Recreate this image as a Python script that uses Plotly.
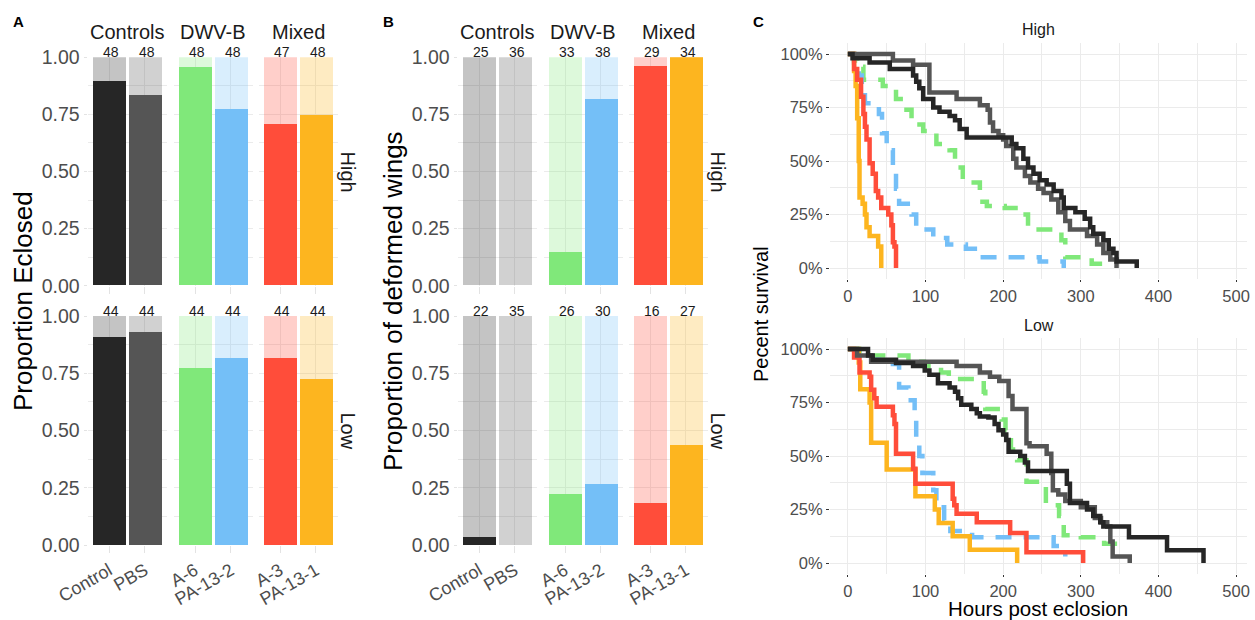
import plotly.graph_objects as go

# ---------------- data ----------------
categories = ["Control", "PBS", "A-6", "PA-13-2", "A-3", "PA-13-1"]
facet_groups = ["Controls", "DWV-B", "Mixed"]
facet_members = [["Control", "PBS"], ["A-6", "PA-13-2"], ["A-3", "PA-13-1"]]
row_labels = ["High", "Low"]

bar_colors = ["#262626", "#555555", "#80E87A", "#74BFF7", "#FF4D3A", "#FDB51F"]

total_proportion = [1.0, 1.0, 1.0, 1.0, 1.0, 1.0]

# Panel A: proportion eclosed
eclosed_high = [0.896, 0.833, 0.958, 0.771, 0.708, 0.745]
eclosed_low = [0.909, 0.932, 0.773, 0.818, 0.818, 0.727]
n_eclosed_high = [48, 48, 48, 48, 47, 48]
n_eclosed_low = [44, 44, 44, 44, 44, 44]

# Panel B: proportion of deformed wings
deformed_high = [0.0, 0.0, 0.145, 0.816, 0.962, 1.0]
deformed_low = [0.035, 0.0, 0.223, 0.267, 0.182, 0.437]
n_deformed_high = [25, 36, 33, 38, 29, 34]
n_deformed_low = [22, 35, 26, 30, 16, 27]

# Panel C: survival curves (hours, percent surviving)
high_control_t = [0, 6, 28, 54, 84, 88, 92, 97, 110, 118, 131, 138, 144, 153, 211, 217, 226, 232, 239, 247, 256, 265, 275, 278, 293, 305, 312, 316, 329, 336, 342, 346, 372]
high_control_s = [100, 98, 96, 93, 90, 87, 84, 79, 75, 73, 71, 69, 65, 61, 58, 56, 51, 47, 44, 41, 39, 36, 33, 28, 26, 23, 19, 16, 13, 9, 7, 3, 0]
high_pbs_t = [0, 58, 84, 105, 140, 170, 180, 183, 187, 194, 200, 204, 213, 217, 228, 235, 245, 252, 262, 271, 280, 286, 308, 321, 329, 338, 346]
high_pbs_s = [100, 97, 95, 82, 79, 76, 74, 68, 64, 62, 60, 57, 51, 47, 43, 40, 37, 35, 32, 26, 22, 18, 15, 11, 7, 4, 0]
high_a6_t = [0, 8, 12, 20, 45, 62, 72, 82, 97, 114, 131, 138, 148, 170, 179, 202, 219, 232, 275, 280, 314, 330]
high_a6_s = [100, 97, 94, 88, 85, 79, 74, 67, 64, 58, 55, 47, 40, 31, 29, 28, 25, 18, 13, 5, 2, 0]
high_pa132_t = [0, 8, 14, 18, 22, 40, 44, 50, 58, 62, 66, 82, 88, 110, 128, 152, 170, 247, 278]
high_pa132_s = [100, 96, 90, 84, 77, 72, 63, 55, 48, 37, 30, 25, 18, 14, 11, 9, 5, 3, 0]
high_a3_t = [0, 8, 12, 17, 20, 22, 24, 28, 32, 36, 39, 43, 52, 56, 58, 60, 62]
high_a3_s = [100, 93, 88, 80, 72, 66, 60, 49, 44, 36, 33, 28, 25, 20, 12, 10, 0]
high_pa131_t = [0, 8, 10, 12, 14, 15, 19, 22, 24, 28, 39, 43]
high_pa131_s = [100, 92, 85, 70, 50, 33, 30, 25, 19, 15, 10, 0]

low_control_t = [0, 26, 32, 62, 84, 99, 105, 116, 131, 138, 142, 146, 159, 166, 170, 181, 189, 194, 200, 204, 207, 222, 228, 232, 282, 286, 308, 316, 325, 329, 362, 411, 458]
low_control_s = [100, 97, 95, 93.5, 92, 90, 88, 84, 82, 80, 77, 74, 72, 70, 68.5, 68, 65, 62, 60, 57.5, 52, 50, 47, 43, 37, 28, 25, 22, 19, 17, 12, 6, 0]
low_pbs_t = [0, 12, 30, 140, 170, 183, 195, 207, 212, 230, 234, 256, 262, 264, 271, 280, 300, 318, 326, 334, 338, 341, 363]
low_pbs_s = [100, 97, 94, 92, 89, 87, 85, 78, 72, 56, 54.5, 51, 42, 34, 32, 29, 26, 21, 19, 17, 10, 3, 0]
low_a6_t = [0, 15, 78, 98, 120, 130, 175, 177, 198, 203, 210, 218, 230, 255, 272, 278, 300, 330, 352]
low_a6_s = [100, 97, 94, 92, 89, 86, 80, 72, 67, 62, 53, 48, 38, 27, 22, 13, 12, 9, 9]
low_pa132_t = [0, 12, 30, 58, 66, 78, 86, 88, 92, 96, 110, 114, 124, 132, 160, 265, 280]
low_pa132_s = [100, 98, 95, 93, 82, 76, 68, 59, 50, 42, 34, 26, 20, 15, 12, 8, 3]
low_a3_t = [0, 8, 15, 28, 30, 34, 37, 58, 60, 62, 84, 87, 135, 137, 140, 166, 209, 230, 303]
low_a3_s = [100, 96, 89, 87, 81, 77, 73, 69, 65, 51, 44, 37, 30, 27, 23, 19, 14, 5, 0]
low_pa131_t = [0, 14, 16, 28, 30, 50, 87, 112, 117, 135, 157, 218]
low_pa131_s = [100, 93.75, 81.25, 75, 56.25, 43.75, 31.25, 25, 18.75, 12.5, 6.25, 0]

# ---------------- styling ----------------
W, H = 1255, 620
FONT = "Liberation Sans, Arial, sans-serif"
GRID = "#ebebeb"
TICKTXT = "#4d4d4d"
DARK = "#1a1a1a"


def fx(px):
    return px / W


def fy(px):
    return 1 - px / H


color_of = dict(zip(categories, bar_colors))

fig = go.Figure()
layout = {}
annotations = []

bar_facets_x = [(87.5, 166.5), (173.5, 252.5), (258.5, 337.5)]
bar_rows_y = [(57.3, 285.7), (316.0, 545.0)]
bar_panels = [
    ("A", 0, [eclosed_high, eclosed_low], [n_eclosed_high, n_eclosed_low], "Proportion Eclosed", 23),
    ("B", 370, [deformed_high, deformed_low], [n_deformed_high, n_deformed_low], "Proportion of deformed wings", 393),
]

ax_i = 0
y_i = 0
for letter, off, vals, ns, ytitle, ytitle_x in bar_panels:
    for ri in range(2):
        y_i += 1
        yname = "y" if y_i == 1 else f"y{y_i}"
        ykey = "yaxis" if y_i == 1 else f"yaxis{y_i}"
        first_x = None
        for fi in range(3):
            ax_i += 1
            xname = "x" if ax_i == 1 else f"x{ax_i}"
            xkey = "xaxis" if ax_i == 1 else f"xaxis{ax_i}"
            if first_x is None:
                first_x = xname
            cats = facet_members[fi]
            idx = [categories.index(c) for c in cats]
            x0, x1 = bar_facets_x[fi]
            layout[xkey] = dict(
                domain=[fx(off + x0), fx(off + x1)], anchor=yname, type="category",
                categoryorder="array", categoryarray=cats, range=[-0.6, 1.6],
                showgrid=True, gridcolor=GRID, gridwidth=1.2, zeroline=False, showline=False,
                ticks="outside", ticklen=7, tickcolor="#e3e3e3", tickwidth=1.2,
                showticklabels=(ri == 1), tickangle=-30, automargin=False,
                tickfont=dict(family=FONT, size=18, color=TICKTXT), fixedrange=True,
            )
            fig.add_trace(go.Bar(
                x=cats, y=[total_proportion[i] for i in idx], width=0.9,
                marker=dict(color=[color_of[c] for c in cats], opacity=0.27, line_width=0),
                xaxis=xname, yaxis=yname, showlegend=False, hoverinfo="skip"))
            fig.add_trace(go.Bar(
                x=cats, y=[vals[ri][i] for i in idx], width=0.9,
                marker=dict(color=[color_of[c] for c in cats], line_width=0),
                xaxis=xname, yaxis=yname, showlegend=False))
            for c, i in zip(cats, idx):
                annotations.append(dict(
                    x=c, y=total_proportion[i], xref=xname, yref=yname, text=str(ns[ri][i]),
                    showarrow=False, yanchor="middle", yshift=5, xshift=2,
                    font=dict(family=FONT, size=14, color=DARK)))
            if ri == 0:
                annotations.append(dict(
                    x=fx(off + (x0 + x1) / 2), y=fy(32), xref="paper", yref="paper",
                    text=facet_groups[fi], showarrow=False, xanchor="center", yanchor="middle",
                    font=dict(family=FONT, size=20, color=DARK)))
        y0, y1 = bar_rows_y[ri]
        layout[ykey] = dict(
            domain=[fy(y1), fy(y0)], anchor=first_x, range=[0, 1], dtick=0.25, tick0=0,
            tickformat=".2f", showgrid=True, gridcolor=GRID, gridwidth=1.2,
            minor=dict(dtick=0.125, showgrid=True, gridcolor=GRID, gridwidth=0.6),
            zeroline=False, showline=False, ticks="outside", ticklen=3, tickcolor="#e3e3e3",
            automargin=False,
            tickfont=dict(family=FONT, size=19.5, color=TICKTXT), fixedrange=True,
        )
        annotations.append(dict(
            x=fx(off + 348), y=fy((y0 + y1) / 2), xref="paper", yref="paper",
            text=row_labels[ri], textangle=90, showarrow=False, xanchor="center", yanchor="middle",
            font=dict(family=FONT, size=20, color=DARK)))
    annotations.append(dict(
        x=fx(ytitle_x), y=fy(301), xref="paper", yref="paper", text=ytitle, textangle=-90,
        showarrow=False, xanchor="center", yanchor="middle",
        font=dict(family=FONT, size=26, color="#000000")))
    annotations.append(dict(
        x=fx(off + 18), y=fy(21), xref="paper", yref="paper", text=f"<b>{letter}</b>",
        showarrow=False, xanchor="center", yanchor="middle",
        font=dict(family=FONT, size=15, color="#000000")))

# ---------------- panel C ----------------
surv_rows = [
    [("A-6", high_a6_t, high_a6_s), ("PA-13-2", high_pa132_t, high_pa132_s),
     ("PA-13-1", high_pa131_t, high_pa131_s), ("A-3", high_a3_t, high_a3_s),
     ("PBS", high_pbs_t, high_pbs_s), ("Control", high_control_t, high_control_s)],
    [("A-6", low_a6_t, low_a6_s), ("PA-13-2", low_pa132_t, low_pa132_s),
     ("PA-13-1", low_pa131_t, low_pa131_s), ("A-3", low_a3_t, low_a3_s),
     ("PBS", low_pbs_t, low_pbs_s), ("Control", low_control_t, low_control_s)],
]
dashed = {"A-6", "PA-13-2"}
c_rows_y = [(43.3, 278.7), (338.3, 573.7)]
c_x = (830, 1247)
c_strip_y = [30, 325]

for ri in range(2):
    ax_i += 1
    y_i += 1
    xname, xkey = f"x{ax_i}", f"xaxis{ax_i}"
    yname, ykey = f"y{y_i}", f"yaxis{y_i}"
    for grp, t, s in surv_rows[ri]:
        fig.add_trace(go.Scatter(
            x=t, y=[v / 100 for v in s], mode="lines", line_shape="hv",
            line=dict(color=color_of[grp], width=4.5, dash=("16px,12px" if grp in dashed else "solid")),
            xaxis=xname, yaxis=yname, showlegend=False, name=grp))
    y0, y1 = c_rows_y[ri]
    layout[xkey] = dict(
        domain=[fx(c_x[0]), fx(c_x[1])], anchor=yname, range=[-23, 514], dtick=100, tick0=0,
        showgrid=True, gridcolor=GRID, gridwidth=1.2,
        minor=dict(dtick=50, tick0=0, showgrid=True, gridcolor=GRID, gridwidth=0.6),
        zeroline=False, showline=False, ticks="outside", ticklen=2, tickcolor="#333333",
        automargin=False,
        tickfont=dict(family=FONT, size=16.5, color=TICKTXT), fixedrange=True,
    )
    layout[ykey] = dict(
        domain=[fy(y1), fy(y0)], anchor=xname, range=[-0.05, 1.05], dtick=0.25, tick0=0,
        tickformat=".0%", showgrid=True, gridcolor=GRID, gridwidth=1.2,
        minor=dict(dtick=0.125, tick0=0, showgrid=True, gridcolor=GRID, gridwidth=0.6),
        zeroline=False, showline=False, ticks="outside", ticklen=3, tickcolor="#333333",
        automargin=False,
        tickfont=dict(family=FONT, size=16.5, color=TICKTXT), fixedrange=True,
    )
    annotations.append(dict(
        x=fx((c_x[0] + c_x[1]) / 2), y=fy(c_strip_y[ri]), xref="paper", yref="paper",
        text=row_labels[ri], showarrow=False, xanchor="center", yanchor="middle",
        font=dict(family=FONT, size=16, color=DARK)))

annotations.append(dict(
    x=fx(1038), y=fy(608), xref="paper", yref="paper", text="Hours post eclosion",
    showarrow=False, xanchor="center", yanchor="middle",
    font=dict(family=FONT, size=20.5, color="#000000")))
annotations.append(dict(
    x=fx(761), y=fy(314), xref="paper", yref="paper", text="Pecent survival", textangle=-90,
    showarrow=False, xanchor="center", yanchor="middle",
    font=dict(family=FONT, size=20, color="#000000")))
annotations.append(dict(
    x=fx(758), y=fy(21), xref="paper", yref="paper", text="<b>C</b>",
    showarrow=False, xanchor="center", yanchor="middle",
    font=dict(family=FONT, size=15, color="#000000")))

fig.update_layout(
    width=W, height=H, autosize=False,
    margin=dict(l=0, r=0, t=0, b=0, pad=0, autoexpand=False),
    paper_bgcolor="white", plot_bgcolor="white",
    barmode="overlay", bargap=0,
    annotations=annotations,
    font=dict(family=FONT),
    **layout,
)

fig.write_html(
    "out.html",
    config={"responsive": False, "displayModeBar": False},
    post_script="document.body.style.margin='0px';document.body.style.overflow='hidden';",
)
